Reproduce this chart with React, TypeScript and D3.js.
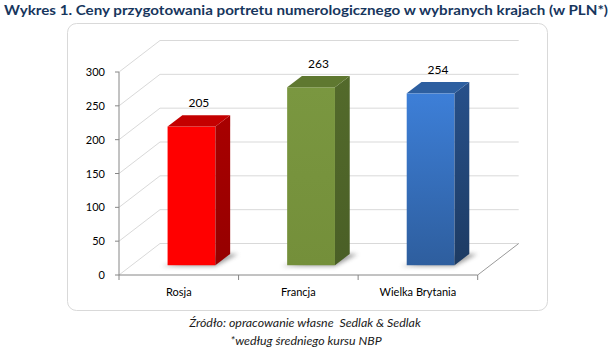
import * as d3 from "d3";

const categories = ["Rosja", "Francja", "Wielka Brytania"];
const values = [205, 263, 254];
const yTicks = [0, 50, 100, 150, 200, 250, 300];
const title =
  "Wykres 1. Ceny przygotowania portretu numerologicznego w wybranych krajach (w PLN*)";
const source = "Źródło: opracowanie własne  Sedlak & Sedlak";
const note = "*według średniego kursu NBP";

const palette = [
  { front: ["#ff0000", "#ff0000"], top: "#c40000", side: ["#a80000", "#960000"] },
  { front: ["#7a9740", "#748f3a"], top: "#5f7830", side: ["#536a2b", "#4a5f26"] },
  { front: ["#3d7fd8", "#2e5e9e"], top: "#2d5fa0", side: ["#27508a", "#1d3b63"] },
];

const W = 612;
const H = 353;
const left = 119;
const right = 477.7;
const floorY = 275;
const topY = 72;
const depthX = 41;
const depthY = 31.5;
const barFront = 0.31;
const barBack = 0.67;
const barShare = 0.4;
const chartFont = "Lato, 'Open Sans', sans-serif";

export default function App() {
  const x = d3.scaleBand<string>().domain(categories).range([left, right]).padding(0);
  const y = d3.scaleLinear().domain([0, 300]).range([floorY, topY]);

  const fx = depthX * barFront;
  const fy = depthY * barFront;
  const bx = depthX * barBack;
  const by = depthY * barBack;
  const bw = x.bandwidth() * barShare;

  const bandEdges = [...categories.map((c) => x(c) as number), right];

  return (
    <svg width={W} height={H} style={{ position: "absolute", left: 0, top: 0, background: "#fff" }}>
      <defs>
        {palette.map((p, i) => (
          <g key={i}>
            <linearGradient id={`front${i}`} x1="0" y1="0" x2="0" y2="1">
              <stop offset="0" stopColor={p.front[0]} />
              <stop offset="1" stopColor={p.front[1]} />
            </linearGradient>
            <linearGradient id={`side${i}`} x1="0" y1="0" x2="0" y2="1">
              <stop offset="0" stopColor={p.side[0]} />
              <stop offset="1" stopColor={p.side[1]} />
            </linearGradient>
          </g>
        ))}
        <filter id="blur" x="-50%" y="-50%" width="200%" height="200%">
          <feGaussianBlur stdDeviation="2.2" />
        </filter>
      </defs>

      <text
        x={4}
        y={15}
        fontFamily="Lato, 'Open Sans', sans-serif"
        fontWeight="bold"
        fontSize={14}
        fill="#17365d"
        textLength={604}
        lengthAdjust="spacingAndGlyphs"
      >
        {title}
      </text>

      <rect x={67.5} y={23.5} width={480} height={287} rx={9} fill="#fff" stroke="#d9d9d9" strokeWidth={1} />

      {/* walls: side + back gridlines */}
      <g stroke="#d9d9d9" strokeWidth={1} fill="none">
        {yTicks.map((t) => (
          <polyline
            key={t}
            points={`${left},${y(t)} ${left + depthX},${y(t) - depthY} ${right + depthX},${y(t) - depthY}`}
          />
        ))}
        <line x1={right} y1={floorY} x2={right + depthX} y2={floorY - depthY} stroke="#9a9a9a" />
      </g>

      {/* axes */}
      <g stroke="#868686" strokeWidth={1}>
        <line x1={left} y1={topY} x2={left} y2={floorY} />
        <line x1={left} y1={floorY} x2={right} y2={floorY} />
        {yTicks.map((t) => (
          <line key={t} x1={left - 4} y1={y(t)} x2={left} y2={y(t)} />
        ))}
        {bandEdges.map((e, i) => (
          <line key={i} x1={e} y1={floorY} x2={e} y2={floorY + 5} />
        ))}
      </g>
      {yTicks.map((t) => (
        <text key={t} x={105} y={y(t) + 4} textAnchor="end" fontFamily={chartFont} fontSize={11} fill="#000">
          {t}
        </text>
      ))}

      {/* bars */}
      {categories.map((c, i) => {
        const x0 = (x(c) as number) + (x.bandwidth() - bw) / 2 + fx;
        const x1 = x0 + bw;
        const yb = floorY - fy;
        const yt = y(values[i]) - fy;
        const ddx = bx - fx;
        const ddy = by - fy;
        return (
          <g key={c}>
            <polygon
              points={`${x0 - 6},${yb + 1} ${x1},${yb + 1} ${x1 + ddx + 8},${yb - ddy} ${x1 + 4},${yb - ddy}`}
              fill="#7f7f7f"
              opacity={0.75}
              filter="url(#blur)"
            />
            <rect x={x0} y={yt} width={bw} height={yb - yt} fill={`url(#front${i})`} />
            <polygon
              points={`${x1},${yt} ${x1 + ddx},${yt - ddy} ${x1 + ddx},${yb - ddy} ${x1},${yb}`}
              fill={`url(#side${i})`}
            />
            <polygon
              points={`${x0},${yt} ${x0 + ddx},${yt - ddy} ${x1 + ddx},${yt - ddy} ${x1},${yt}`}
              fill={palette[i].top}
            />
            <text
              x={(x0 + x1 + ddx) / 2}
              y={yt - ddy - 8}
              textAnchor="middle"
              fontFamily={chartFont}
              fontSize={12}
              fill="#000"
            >
              {values[i]}
            </text>
            <text
              x={(x(c) as number) + x.bandwidth() / 2}
              y={296}
              textAnchor="middle"
              fontFamily={chartFont}
              fontSize={11}
              fill="#000"
            >
              {c}
            </text>
          </g>
        );
      })}

      <text x={305} y={327} textAnchor="middle" fontFamily={chartFont} fontStyle="italic" fontSize={12.4} fill="#1a1a1a" style={{ whiteSpace: "pre" }}>
        {source}
      </text>
      <text x={306} y={345} textAnchor="middle" fontFamily={chartFont} fontStyle="italic" fontSize={12.4} fill="#1a1a1a">
        {note}
      </text>
    </svg>
  );
}
